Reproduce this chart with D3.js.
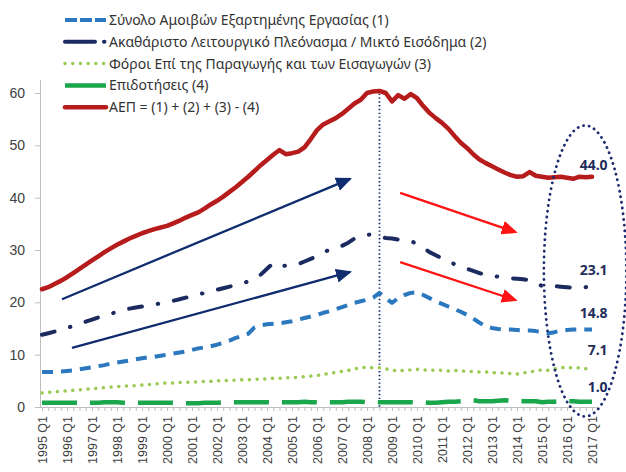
<!DOCTYPE html>
<html>
<head>
<meta charset="utf-8">
<script src="https://cdn.jsdelivr.net/npm/d3@7"></script>
<style>
  body { margin: 0; background: #fff; }
  svg { font-family: "Noto Sans", "Open Sans", sans-serif; }
  .axis text { fill: #404040; }
  .axis line, .axis path { stroke: #bfbfbf; }
</style>
</head>
<body>
<svg id="chart"></svg>
<script>
// Chart size
const width = 626;
const height = 472;

// Quarter labels shown on the x axis (one every 4 quarters)
const tickLabels = ["1995 Q1", "1996 Q1", "1997 Q1", "1998 Q1", "1999 Q1", "2000 Q1",
  "2001 Q1", "2002 Q1", "2003 Q1", "2004 Q1", "2005 Q1", "2006 Q1", "2007 Q1",
  "2008 Q1", "2009 Q1", "2010 Q1", "2011 Q1", "2012 Q1", "2013 Q1", "2014 Q1",
  "2015 Q1", "2016 Q1", "2017 Q1"];

const yTicks = [0, 10, 20, 30, 40, 50, 60];

// Series, quarterly from 1995 Q1 to 2017 Q1 (bn euro)
const compensation = [
  6.7, 6.7, 6.7, 6.8,   6.9, 7.0, 7.2, 7.4,   7.6, 7.8, 8.0, 8.3,
  8.5, 8.7, 8.9, 9.1,   9.3, 9.5, 9.6, 9.8,   10.0, 10.2, 10.4, 10.6,
  10.9, 11.2, 11.4, 11.6,   11.9, 12.3, 12.7, 13.2,   13.6, 14.0, 15.2, 15.6,
  15.8, 15.9, 16.0, 16.2,   16.4, 16.7, 17.0, 17.3,   17.6, 18.0, 18.3, 18.7,
  19.1, 19.5, 19.9, 20.2,   20.5, 20.9, 21.8, 20.8,   19.9, 20.8, 21.4, 21.8,
  21.9, 21.4, 20.8, 20.2,   19.7, 19.2, 18.7, 18.2,   17.6, 16.9, 16.1, 15.4,
  15.1, 14.9, 14.8, 14.8,   14.7, 14.6, 14.6, 14.5,   14.3, 14.1, 14.3, 14.6,
  14.7, 14.8, 14.8, 14.8,   14.8
];

const surplus = [
  13.8, 14.1, 14.4, 14.7,   15.1, 15.5, 15.9, 16.3,   16.7, 17.1, 17.5, 17.8,
  18.2, 18.5, 18.8, 19.0,   19.2, 19.4, 19.6, 19.8,   20.0, 20.3, 20.6, 20.9,
  21.2, 21.5, 21.8, 22.1,   22.4, 22.7, 23.0, 23.3,   23.6, 24.0, 24.6, 25.3,
  26.4, 27.5, 26.9, 27.0,   27.2, 27.3, 27.8, 28.3,   28.8, 29.6, 30.0, 30.4,
  30.8, 31.4, 32.2, 32.6,   32.9, 33.0, 32.5, 32.3,   32.2, 32.0, 31.8, 31.7,
  31.2, 30.4, 29.6, 29.0,   28.4, 27.8, 27.3, 26.9,   26.4, 26.0, 25.6, 25.2,
  25.1, 24.9, 24.7, 24.6,   24.5, 24.4, 24.2, 23.9,   23.1, 23.3, 23.1, 23.0,
  22.9, 22.8, 22.7, 22.9,   23.1
];

const taxes = [
  2.7, 2.8, 2.9, 3.0,   3.1, 3.2, 3.3, 3.4,   3.5, 3.6, 3.7, 3.8,
  3.9, 4.0, 4.0, 4.1,   4.2, 4.3, 4.4, 4.5,   4.6, 4.6, 4.7, 4.7,
  4.8, 4.8, 4.9, 4.9,   5.0, 5.0, 5.1, 5.1,   5.2, 5.2, 5.3, 5.3,
  5.4, 5.5, 5.5, 5.6,   5.6, 5.7, 5.8, 5.9,   6.0, 6.2, 6.4, 6.6,
  6.8, 7.0, 7.3, 7.5,   7.6, 7.5, 7.5, 7.3,   7.0, 6.9, 7.0, 7.1,
  7.2, 7.1, 7.0, 7.0,   7.0, 6.9, 7.0, 6.9,   6.8, 6.8, 6.7, 6.7,
  6.6, 6.5, 6.5, 6.4,   6.3, 6.5, 6.7, 6.9,   7.1, 7.0, 7.3, 7.5,
  7.6, 7.4, 7.5, 7.3,   7.1
];

const subsidies = [
  0.8, 0.8, 0.8, 0.8,   0.8, 0.8, 0.8, 0.8,   0.8, 0.8, 0.9, 0.9,
  0.9, 0.8, 0.8, 0.8,   0.8, 0.8, 0.8, 0.8,   0.8, 0.8, 0.8, 0.7,
  0.7, 0.7, 0.8, 0.8,   0.8, 0.9, 0.9, 0.9,   0.9, 0.9, 0.9, 0.9,
  0.9, 0.9, 0.9, 0.9,   0.9, 0.9, 1.0, 0.9,   0.9, 0.9, 0.9, 0.9,
  0.9, 1.0, 1.0, 1.0,   0.9, 0.9, 0.9, 0.9,   0.9, 0.9, 0.9, 0.9,
  0.9, 0.9, 0.8, 0.8,   0.9, 1.0, 1.0, 1.1,   1.1, 1.3, 1.1, 1.1,
  1.1, 1.2, 1.3, 1.2,   1.2, 1.1, 1.1, 1.1,   0.9, 1.0, 1.0, 1.1,
  1.1, 1.1, 1.0, 1.0,   1.0
];

const gdp = [
  22.5, 22.9, 23.5, 24.1,   24.8, 25.6, 26.4, 27.2,   28.0, 28.8, 29.6, 30.3,
  31.0, 31.6, 32.2, 32.7,   33.2, 33.6, 34.0, 34.3,   34.6, 35.1, 35.6, 36.2,
  36.7, 37.2, 37.9, 38.7,   39.4, 40.2, 41.1, 42.0,   43.0, 44.0, 45.1, 46.2,
  47.2, 48.2, 49.1, 48.3,   48.5, 48.8, 49.6, 51.2,   52.9, 54.0, 54.6, 55.2,
  56.0, 57.0, 58.0, 58.7,   60.0, 60.3, 60.4, 60.0,   58.4, 59.6, 58.9, 59.8,
  59.0, 57.5, 56.2, 55.2,   54.3, 53.2, 51.8, 50.5,   49.5, 48.3, 47.3, 46.6,
  46.0, 45.4, 44.8, 44.3,   44.0, 44.1, 44.9, 44.2,   44.0, 43.8, 43.9, 44.0,
  43.8, 43.6, 44.0, 43.9,   44.0
];

// End-of-period values written at the right
const endLabels = ["44.0", "23.1", "14.8", "7.1", "1.0"];

const seriesNames = [
  "Σύνολο Αμοιβών Εξαρτημένης Εργασίας (1)",
  "Ακαθάριστο Λειτουργικό Πλεόνασμα / Μικτό Εισόδημα (2)",
  "Φόροι Επί της Παραγωγής και των Εισαγωγών (3)",
  "Επιδοτήσεις (4)",
  "ΑΕΠ = (1) + (2) + (3) - (4)"
];

// Line styles for each series (same order as the names)
const styles = [
  {values: compensation, color: "#2b78bf", width: 4, dash: "11,8", cap: "butt"},
  {values: surplus, color: "#1c2b5f", width: 4, dash: "13,16,0.5,16", cap: "round"},
  {values: taxes, color: "#9acb55", width: 3.5, dash: "0.1,7.6", cap: "round"},
  {values: subsidies, color: "#1aa64a", width: 4.5, dash: "35,13", cap: "butt"},
  {values: gdp, color: "#b71c1c", width: 4.5, dash: null, cap: "round"}
];

const svg = d3.select("#chart")
  .attr("width", width)
  .attr("height", height);

// Scales: quarter index -> x, value -> y
const x = d3.scaleLinear().domain([0, 88]).range([42, 592]);
const y = d3.scaleLinear().domain([0, 60]).range([407, 93]);

// Y axis
const yAxis = svg.append("g")
  .attr("class", "axis")
  .attr("transform", "translate(40, 0)")
  .call(d3.axisLeft(y).tickValues(yTicks).tickSize(5).tickPadding(10));
yAxis.select(".domain").remove();
yAxis.selectAll("text").attr("font-size", "14px");
svg.append("line")
  .attr("x1", 40.5).attr("x2", 40.5)
  .attr("y1", y(62.5)).attr("y2", y(0))
  .attr("stroke", "#bfbfbf");

// X axis, one tick per quarter, labels on Q1
const xAxis = svg.append("g")
  .attr("class", "axis")
  .attr("transform", `translate(0, ${y(0)})`)
  .call(d3.axisBottom(x)
    .tickValues(d3.range(0, 89))
    .tickSize(4)
    .tickFormat((d) => d % 4 === 0 ? tickLabels[d / 4] : ""));
xAxis.select(".domain").remove();
xAxis.selectAll("text")
  .attr("font-size", "12.5px")
  .attr("fill", "#555")
  .attr("transform", "rotate(-90)")
  .attr("x", -9)
  .attr("y", 0)
  .attr("dy", "0.35em")
  .style("text-anchor", "end");
svg.append("line")
  .attr("x1", 40).attr("x2", x(88.8))
  .attr("y1", y(0) + 0.5).attr("y2", y(0) + 0.5)
  .attr("stroke", "#bfbfbf");

// Vertical dotted line at the peak (2008 Q3)
svg.append("line")
  .attr("x1", x(54)).attr("x2", x(54))
  .attr("y1", y(60.6)).attr("y2", y(0))
  .attr("stroke", "#1c2b6e")
  .attr("stroke-width", 1.8)
  .attr("stroke-dasharray", "1.4,2.4");

// Series lines
const line = d3.line()
  .x((d, i) => x(i))
  .y((d) => y(d));

styles.forEach((s) => {
  svg.append("path")
    .datum(s.values)
    .attr("fill", "none")
    .attr("stroke", s.color)
    .attr("stroke-width", s.width)
    .attr("stroke-dasharray", s.dash)
    .attr("stroke-linecap", s.cap)
    .attr("stroke-linejoin", "round")
    .attr("d", line);
});

// Arrow markers
const defs = svg.append("defs");
function addMarker(id, color) {
  defs.append("marker")
    .attr("id", id)
    .attr("viewBox", "0 0 16 14")
    .attr("refX", 14)
    .attr("refY", 7)
    .attr("markerWidth", 16)
    .attr("markerHeight", 14)
    .attr("markerUnits", "userSpaceOnUse")
    .attr("orient", "auto")
    .append("path")
    .attr("d", "M0,0 L16,7 L0,14 Z")
    .attr("fill", color);
}
addMarker("arrowBlue", "#0f2c6e");
addMarker("arrowRed", "#ff1414");

// Trend arrows (in quarter index / value units)
const arrows = [
  {from: [3.2, 20.6], to: [49.3, 43.6], marker: "arrowBlue", color: "#0f2c6e"},
  {from: [4.8, 11.3], to: [49.3, 25.8], marker: "arrowBlue", color: "#0f2c6e"},
  {from: [57.3, 40.9], to: [75.8, 33.4], marker: "arrowRed", color: "#ff1414"},
  {from: [57.3, 27.7], to: [75.8, 20.4], marker: "arrowRed", color: "#ff1414"}
];
arrows.forEach((a) => {
  svg.append("line")
    .attr("x1", x(a.from[0])).attr("y1", y(a.from[1]))
    .attr("x2", x(a.to[0])).attr("y2", y(a.to[1]))
    .attr("stroke", a.color)
    .attr("stroke-width", 2.3)
    .attr("marker-end", `url(#${a.marker})`);
});

// Dotted ellipse around the latest values
svg.append("ellipse")
  .attr("cx", x(86.9))
  .attr("cy", y(26))
  .attr("rx", x(93.5) - x(86.9))
  .attr("ry", y(0) - y(27.8))
  .attr("fill", "none")
  .attr("stroke", "#1c2b6e")
  .attr("stroke-width", 2.8)
  .attr("stroke-linecap", "round")
  .attr("stroke-dasharray", "0.1,5.6");

// Latest values, right aligned
const labelLevels = [45.3, 25.2, 17.0, 9.9, 2.9];
svg.selectAll("text.endlabel")
  .data(endLabels)
  .enter()
  .append("text")
  .attr("class", "endlabel")
  .attr("x", x(90.5))
  .attr("y", (d, i) => y(labelLevels[i]))
  .attr("text-anchor", "end")
  .attr("font-size", "14px")
  .attr("font-weight", "bold")
  .attr("fill", "#1f2d5a")
  .text((d) => d);

// Legend
const legend = svg.append("g")
  .attr("class", "legend")
  .attr("transform", "translate(64, 20)");

const rows = legend.selectAll("g")
  .data(styles)
  .enter()
  .append("g")
  .attr("transform", (d, i) => `translate(0, ${i * 21.8})`);

rows.append("line")
  .attr("x1", 1)
  .attr("x2", 42)
  .attr("y1", 0)
  .attr("y2", 0)
  .attr("stroke", (d) => d.color)
  .attr("stroke-width", (d) => d.width)
  .attr("stroke-linecap", (d) => d.cap)
  .attr("stroke-dasharray", (d, i) => ["12,3", "30,9,0.5,9", "0.1,7.6", null, null][i]);

rows.append("text")
  .attr("x", 45)
  .attr("y", 0)
  .attr("dy", "0.35em")
  .attr("font-size", "14px")
  .attr("fill", "#333")
  .text((d, i) => seriesNames[i]);
</script>
</body>
</html>
